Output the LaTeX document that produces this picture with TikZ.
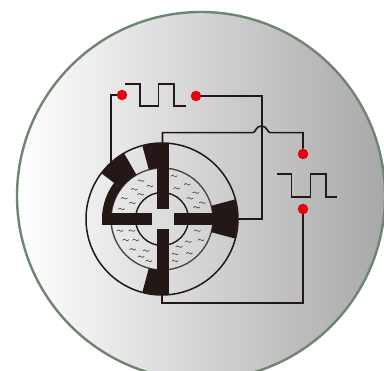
\documentclass[tikz,border=0pt]{standalone}
\usepackage{xcolor}
\usetikzlibrary{calc, positioning}
\definecolor{rotorblack}{HTML}{231815}
\definecolor{rimgreen}{HTML}{6F8570}
\definecolor{contactred}{HTML}{E60012}
\tikzset{
  wire/.style={line width=1.6pt, rotorblack, line join=miter},
  contact/.style={circle, fill=contactred, inner sep=0pt, minimum size=10.5pt},
  ripple/.style={line width=0.6pt, rotorblack!85},
}
\newcommand{\ringsector}[4]{\fill[rotorblack] (#1:#4) arc (#1:#2:#4) -- (#2:#3) arc (#2:#1:#3) -- cycle;}
\begin{document}
\begin{tikzpicture}[x=1pt, y=1pt, line join=round]
    \useasboundingbox (0,0) rectangle (384,371);
    \fill[white] (0,0) rectangle (384,371);
    \clip (0,0) rectangle (384,371);
    % Scheibe mit Verlauf
    \shade[left color=white, middle color=black!12, right color=black!34] (201,175) circle (184);
    \draw[rimgreen, line width=2.4pt] (201,175) circle (184);
    % Anschlusspunkte
    \node[contact] (D1) at (122,276) {};
    \node[contact] (D2) at (196,275) {};
    \node[contact] (D3) at (303,217) {};
    \node[contact] (D4) at (303,162) {};
    % Rotor-Anschluesse
    \coordinate (M) at (162,152);
    \coordinate (PL) at (111,204);
    \coordinate (PT) at (162.5,228);
    \coordinate (PR) at (238,152);
    \coordinate (PB) at (162,76);
    % Leitungen
    \draw[wire] (D1) -| (PL);
    \draw[wire] (D2) -| (262,152) -- (PR);
    \draw[wire] (PT) |- (252.5,238.3) .. controls (256,238.3) and (255.5,245) .. (261.5,245)
        .. controls (267.5,245) and (267,238.3) .. (270.5,238.3) -| (D3);
    \draw[wire] (D4) |- (162,68) -- (PB);
    % Pulse
    \draw[wire] (125,287) -- (140,287) -- (140,265) -- (158.5,265) -- (158.5,287) -- (174,287) -- (174,265) -- (186,265);
    \draw[wire] (277,197) -- (291.5,197) -- (291.5,174) -- (310.5,174) -- (310.5,197) -- (326,197) -- (326,174) -- (337,174);
    \begin{scope}[shift={(M)}]
      % Kreise
      \draw[rotorblack, line width=1.5pt] (0,0) circle (76);
      \draw[rotorblack!80, line width=1.4pt] (0,0) circle (51);
      \draw[rotorblack, line width=1.4pt] (0,0) circle (26.5);
      % Pole
      \ringsector{90}{105}{51}{76}
      \ringsector{-105}{-90}{51}{76}
      \ringsector{-15}{15}{51}{76}
      \ringsector{120}{143}{51}{76}
      \ringsector{143}{180}{51}{60}
      % Stege
      \fill[rotorblack] (-5.5,9.5) rectangle (6.5,76);
      \fill[rotorblack] (-5.5,-10.5) rectangle (6.5,-76);
      \fill[rotorblack] (-60,-6.5) rectangle (-10.5,6);
      \fill[rotorblack] (11.5,-6.5) rectangle (60,6);
    \end{scope}
    % Wellen
    \foreach \wx/\wy in {141/190.3, 150/185, 134.3/181.7, 140.7/176.7, 124.3/172.7, 132.3/168, 121.3/162,
        174/195, 187.3/186.7, 176.7/182.7, 195.7/178.3, 190/172.7, 202.3/168.3, 196.7/163.7,
        120/140.3, 131.7/140.3, 125.7/131, 135.7/131, 132.7/121.7, 146/120.3, 141/114.3, 148.7/110,
        197.3/140.3, 201/131, 188.3/129.3, 179/124.3, 189.3/117.7, 175/117, 175/110}
      \draw[ripple] (\wx-3.2,\wy-0.3) .. controls (\wx-2,\wy+1.5) and (\wx-1,\wy+0.7) .. (\wx,\wy)
          .. controls (\wx+1,\wy-0.7) and (\wx+2,\wy-1.5) .. (\wx+3.2,\wy+0.3);
\end{tikzpicture}
\end{document}
